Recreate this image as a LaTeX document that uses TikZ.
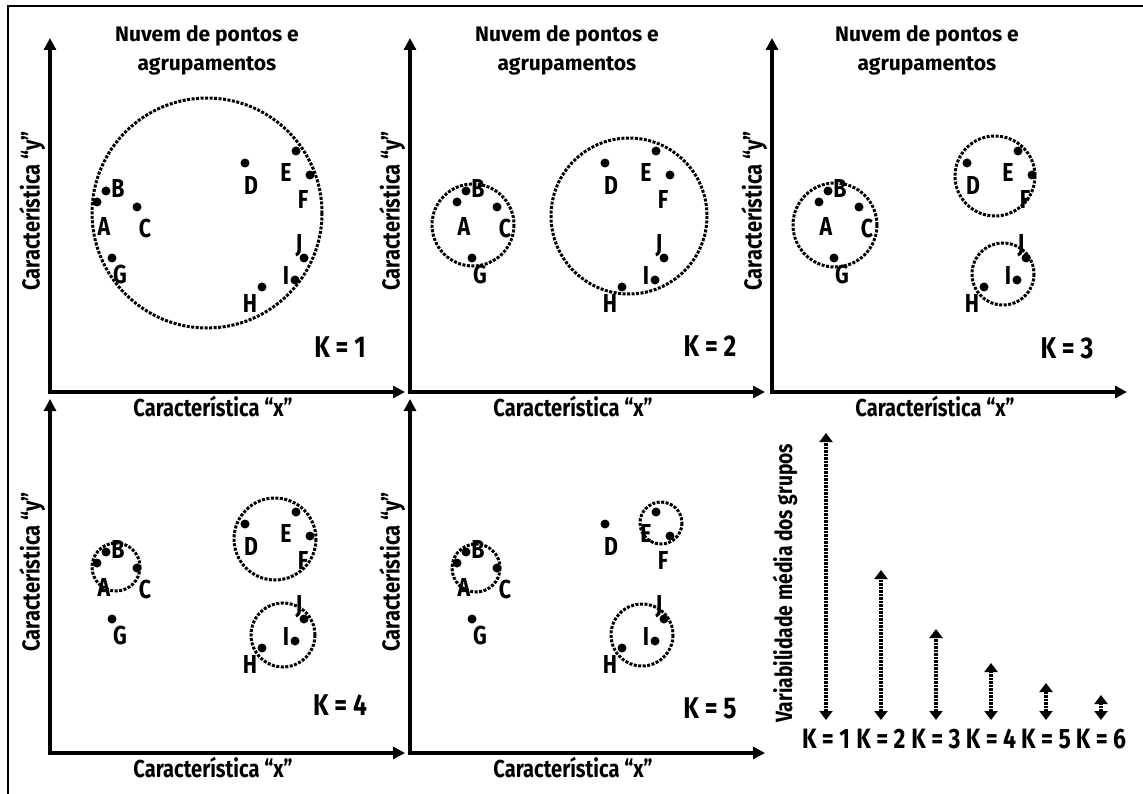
\documentclass[tikz,border=0pt]{standalone}
\usepackage{fontspec}
\setmainfont{Fira Sans}[FakeStretch=0.82]
\newfontfamily\titfont{Fira Sans}
\usetikzlibrary{arrows.meta}
\tikzset{
  eixo/.style={line width=3.5pt, {Triangle[length=12pt,width=12pt]}-{Triangle[length=12pt,width=12pt]}},
  grupo/.style={line width=3pt, dash pattern=on 3pt off 1.5pt},
  variab/.style={line width=3.5pt, dash pattern=on 2.5pt off 1pt,
                 {Triangle[length=9pt,width=13pt]}-{Triangle[length=9pt,width=13pt]}},
  ponto/.style={circle, fill, inner sep=0pt, minimum size=9pt},
  letra/.style={font=\fontsize{26}{26}\selectfont\bfseries, inner sep=0pt},
  eixotxt/.style={font=\fontsize{24.5}{26}\selectfont\bfseries, inner sep=0pt},
  titulo/.style={font=\titfont\fontsize{21}{29}\selectfont\bfseries, align=center, inner sep=0pt},
  ktxt/.style={font=\fontsize{30}{30}\selectfont\bfseries, inner sep=0pt},
  kbase/.style={font=\fontsize{28}{28}\selectfont\bfseries, inner sep=0pt},
  vartxt/.style={font=\fontsize{23.5}{24}\selectfont\bfseries, inner sep=0pt},
  moldura/.style={line width=2pt},
}
% one scatter panel: axes, axis texts, the ten points
\newcommand{\nuvem}{%
  \coordinate (o) at (0,0);
  \coordinate (ytopo) at (0,-354);
  \coordinate (xfim) at (355,0);
  \draw[eixo] (ytopo) |- (xfim);
  \node[eixotxt] (xtxt) at (163,14) {Característica “x”};
  \node[eixotxt, rotate=90] (ytxt) at (-18,-181) {Característica “y”};
  \foreach \p/\px/\py/\lx/\ly in {A/47/-190/54/-166, B/56/-201/68/-204, C/87/-185/95/-164,
      D/195/-229/201/-207, E/246/-241/236/-220, F/260/-217/253/-193, G/62/-134/70/-118,
      H/212/-105/200/-89, I/245/-112/236/-117, J/254/-134/249/-146}
    {\node[ponto] (\p) at (\px,\py) {};
     \node[letra] (l\p) at (\lx,\ly) {\p};}
}

\begin{document}
\begin{tikzpicture}[x=1pt, y=-1pt]
\useasboundingbox (0,0) rectangle (1143,794);
\draw[moldura] (8,794) |- (1143,6);

% K = 1
\begin{scope}[shift={(50,392)}, name prefix=g1-]
  \nuvem
  \node[titulo] (tit) at (157,-342) {Nuvem de pontos e\\agrupamentos};
  \draw[grupo] (157,-179) circle[radius=115];
  \node[ktxt] (k) at (290,-45) {K = 1};
\end{scope}

% K = 2
\begin{scope}[shift={(410,392)}, name prefix=g2-]
  \nuvem
  \node[titulo] (tit) at (157,-342) {Nuvem de pontos e\\agrupamentos};
  \draw[grupo] (63,-167) circle[radius=41];
  \draw[grupo] (219,-176) circle[radius=78];
  \node[ktxt] (k) at (300,-46) {K = 2};
\end{scope}

% K = 3
\begin{scope}[shift={(772,392)}, name prefix=g3-]
  \nuvem
  \node[titulo] (tit) at (155,-342) {Nuvem de pontos e\\agrupamentos};
  \draw[grupo] (63,-167) circle[radius=42];
  \draw[grupo] (223,-216) circle[radius=40];
  \draw[grupo] (231,-118) circle[radius=31];
  \node[ktxt] (k) at (295,-44) {K = 3};
\end{scope}

% K = 4
\begin{scope}[shift={(50,753)}, name prefix=g4-]
  \nuvem
  \draw[grupo] (66,-186) circle[radius=24];
  \draw[grupo] (225,-214) circle[radius=41];
  \draw[grupo] (233,-118) circle[radius=32];
  \node[ktxt] (k) at (290,-48) {K = 4};
\end{scope}

% K = 5
\begin{scope}[shift={(410,753)}, name prefix=g5-]
  \nuvem
  \draw[grupo] (66,-185) circle[radius=24];
  \draw[grupo] (251,-230) circle[radius=21];
  \draw[grupo] (232,-118) circle[radius=31];
  \node[ktxt] (k) at (300,-45) {K = 5};
\end{scope}

% variabilidade por K
\node[vartxt, rotate=90] (vtxt) at (785,583) {Variabilidade média dos grupos};
\foreach \i/\xk/\topo in {1/826/433, 2/881/570, 3/936/629, 4/991/663, 5/1046/683, 6/1101/695}
  {\node[kbase] (kb\i) at (\xk,739) {K = \i};
   \coordinate (vt\i) at (\xk,\topo);
   \coordinate (vb\i) at (\xk,720);
   \draw[variab] (vb\i) -- (vt\i);}
\end{tikzpicture}
\end{document}
